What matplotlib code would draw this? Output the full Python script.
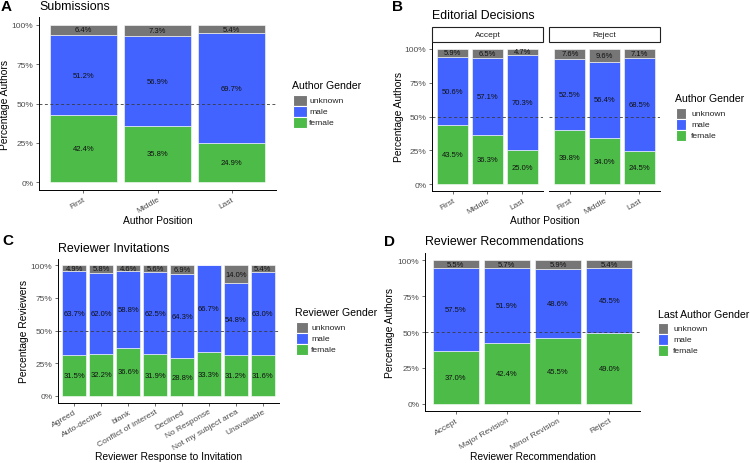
import matplotlib
matplotlib.use("Agg")
import matplotlib.pyplot as plt
from matplotlib.patches import Rectangle
import numpy as np

plt.rcParams['font.family'] = ['Liberation Sans', 'DejaVu Sans']

# ---------------- data ----------------
genders = ["female", "male", "unknown"]
legend_order = ["unknown", "male", "female"]

a_positions = ["First", "Middle", "Last"]
a_female = [42.4, 35.8, 24.9]
a_male = [51.2, 56.9, 69.7]
a_unknown = [6.4, 7.3, 5.4]

b_facets = ["Accept", "Reject"]
b_positions = ["First", "Middle", "Last"]
b_accept_female = [43.5, 36.3, 25.0]
b_accept_male = [50.6, 57.1, 70.3]
b_accept_unknown = [5.9, 6.5, 4.7]
b_reject_female = [39.8, 34.0, 24.5]
b_reject_male = [52.5, 56.4, 68.5]
b_reject_unknown = [7.6, 9.6, 7.1]

c_responses = ["Agreed", "Auto-decline", "blank", "Conflict of interest",
               "Declined", "No Response", "Not my subject area", "Unavailable"]
c_female = [31.5, 32.2, 36.6, 31.9, 28.8, 33.3, 31.2, 31.6]
c_male = [63.7, 62.0, 58.8, 62.5, 64.3, 66.7, 54.8, 63.0]
c_unknown = [4.9, 5.8, 4.6, 5.6, 6.9, 0.0, 14.0, 5.4]

d_recs = ["Accept", "Major Revision", "Minor Revision", "Reject"]
d_female = [37.0, 42.4, 45.5, 49.0]
d_male = [57.5, 51.9, 48.6, 45.5]
d_unknown = [5.5, 5.7, 5.9, 5.4]

y_ticks = [0, 25, 50, 75, 100]
y_ticklabels = ["0%", "25%", "50%", "75%", "100%"]

colors = {"female": "#4CBB48", "male": "#4263FF", "unknown": "#767676"}

# ---------------- layout helpers ----------------
W, H = 750, 464
fig = plt.figure(figsize=(W / 100, H / 100), dpi=100)


def fx(x):
    return x / W


def fy(y):
    return 1 - y / H


def px_axes(l, t, r, b):
    return fig.add_axes([fx(l), fy(b), (r - l) / W, (b - t) / H])


TICK_FS = 6.0
TICK_COL = "#4D4D4D"
BAR_FS = 5.5


def stacked(ax, cats, fem, mal, unk, show_y=True, left_spine=True):
    data = {"female": np.array(fem, float), "male": np.array(mal, float),
            "unknown": np.array(unk, float)}
    total = data["female"] + data["male"] + data["unknown"]
    x = np.arange(len(cats))
    bottom = np.zeros(len(cats))
    for g in genders:
        vals = data[g] / total * 100
        ax.bar(x, vals, bottom=bottom, width=0.9, color=colors[g],
               edgecolor="white", linewidth=0.4)
        for xi, v, b0, raw in zip(x, vals, bottom, data[g]):
            if raw > 0:
                ax.text(xi, b0 + v / 2, f"{raw:.1f}%", ha="center",
                        va="center", fontsize=BAR_FS, color="#111111")
        bottom = bottom + vals
    ax.axhline(50, color="#3A3A3A", linestyle=(0, (3.5, 3)), linewidth=0.6)
    ax.set_xlim(-0.6, len(cats) - 0.4)
    ax.set_ylim(-5, 105)
    ax.set_xticks(x)
    ax.set_xticklabels(cats, rotation=30, ha="right", va="top",
                       rotation_mode="anchor", fontsize=TICK_FS, color=TICK_COL)
    ax.set_yticks(y_ticks)
    if show_y:
        ax.set_yticklabels(y_ticklabels, fontsize=TICK_FS, color=TICK_COL)
    else:
        ax.set_yticklabels([])
    for s in ["top", "right"]:
        ax.spines[s].set_visible(False)
    ax.spines["left"].set_visible(left_spine)
    for s in ["left", "bottom"]:
        ax.spines[s].set_linewidth(0.7)
        ax.spines[s].set_color("black")
    ax.tick_params(axis="both", length=2.5, width=0.5, color="#333333", pad=1.5)
    if not show_y:
        ax.tick_params(axis="y", length=0)
    ax.set_facecolor("white")


def legend(title, tx, ty, kx0, kx1, ky0, kh, lx):
    fig.text(fx(tx), fy(ty), title, fontsize=7.6, ha="left", va="center")
    for i, g in enumerate(legend_order):
        y0 = ky0 + i * kh
        fig.patches.append(Rectangle((fx(kx0), fy(y0 + kh)), (kx1 - kx0) / W,
                                     kh / H, transform=fig.transFigure,
                                     facecolor=colors[g], edgecolor="white",
                                     linewidth=0.8))
        fig.text(fx(lx), fy(y0 + kh / 2), g, fontsize=6.1, ha="left",
                 va="center", color="#222222")


def panel_letter(letter, x, y):
    fig.text(fx(x), fy(y), letter, fontsize=11, fontweight="bold",
             ha="left", va="center")


def title(t, x, y):
    fig.text(fx(x), fy(y), t, fontsize=8.9, ha="left", va="center")


AX_FS = 7.4

# ---------------- Panel A ----------------
axA = px_axes(39, 18, 276, 191)
stacked(axA, a_positions, a_female, a_male, a_unknown)
panel_letter("A", 1, 7)
title("Submissions", 39, 7)
fig.text(fx(5), fy(104.5), "Percentage Authors", rotation=90, fontsize=AX_FS,
         ha="center", va="center")
fig.text(fx(157.5), fy(221), "Author Position", fontsize=AX_FS,
         ha="center", va="center")
legend("Author Gender", 292, 86, 293, 307, 96, 11, 309)

# ---------------- Panel B ----------------
axB1 = px_axes(432, 43, 543, 192)
stacked(axB1, b_positions, b_accept_female, b_accept_male, b_accept_unknown)
axB2 = px_axes(549, 43, 660, 192)
stacked(axB2, b_positions, b_reject_female, b_reject_male, b_reject_unknown,
        show_y=False, left_spine=False)
for (l, r), name in zip([(432, 543), (549, 660)], b_facets):
    fig.patches.append(Rectangle((fx(l), fy(43)), (r - l) / W, 15 / H,
                                 transform=fig.transFigure, facecolor="white",
                                 edgecolor="#222222", linewidth=0.8))
    fig.text(fx((l + r) / 2), fy(35.5), name, fontsize=6.0, ha="center",
             va="center", color="#222222")
panel_letter("B", 392, 7)
title("Editorial Decisions", 432, 16)
fig.text(fx(399), fy(117), "Percentage Authors", rotation=90, fontsize=AX_FS,
         ha="center", va="center")
fig.text(fx(545), fy(221), "Author Position", fontsize=AX_FS,
         ha="center", va="center")
legend("Author Gender", 675, 99, 676, 686, 109, 11, 691)

# ---------------- Panel C ----------------
axC = px_axes(58, 259.5, 279, 403.5)
stacked(axC, c_responses, c_female, c_male, c_unknown)
panel_letter("C", 2, 241)
title("Reviewer Invitations", 58, 249)
fig.text(fx(24), fy(331), "Percentage Reviewers", rotation=90, fontsize=AX_FS,
         ha="center", va="center")
fig.text(fx(168.5), fy(457.5), "Reviewer Response to Invitation",
         fontsize=AX_FS, ha="center", va="center")
legend("Reviewer Gender", 295, 312.5, 296, 308, 323, 11, 311)

# ---------------- Panel D ----------------
axD = px_axes(425, 254, 640, 412)
stacked(axD, d_recs, d_female, d_male, d_unknown)
panel_letter("D", 384, 242)
title("Reviewer Recommendations", 425, 242)
fig.text(fx(390), fy(333), "Percentage Authors", rotation=90, fontsize=AX_FS,
         ha="center", va="center")
fig.text(fx(532.5), fy(457.5), "Reviewer Recommendation", fontsize=AX_FS,
         ha="center", va="center")
legend("Last Author Gender", 658, 315, 658, 668, 324, 11, 673)

fig.savefig("out.png", dpi=100, facecolor="white")
